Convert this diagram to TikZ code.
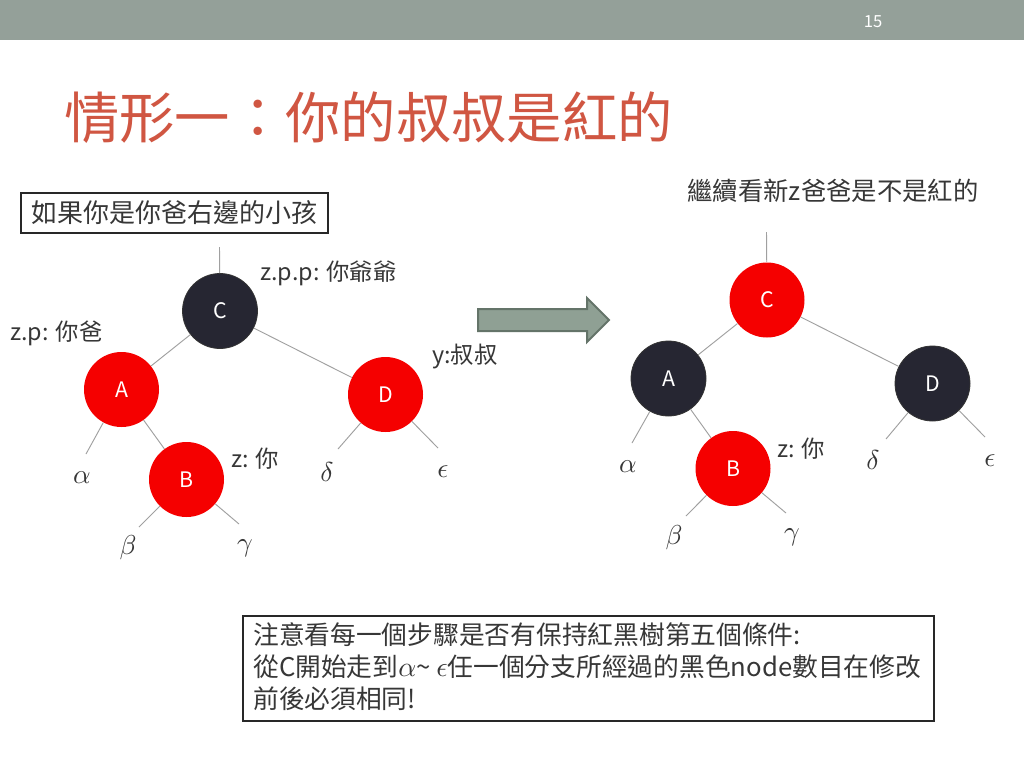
\documentclass[tikz,border=0pt]{standalone}
\usepackage{graphicx}
\usepackage{fontspec}
\setmainfont{Noto Sans CJK TC}
\definecolor{barc}{RGB}{148,160,153}
\definecolor{titlec}{RGB}{208,86,66}
\definecolor{nred}{RGB}{245,0,0}
\definecolor{nblack}{RGB}{38,38,50}
\definecolor{edgec}{RGB}{160,160,160}
\definecolor{arrowfill}{RGB}{143,160,148}
\definecolor{arrowline}{RGB}{100,116,105}
\definecolor{boxline}{RGB}{40,40,40}
\definecolor{textc}{RGB}{55,55,55}
\newcommand{\grk}[1]{\scalebox{2.05}{\fontsize{10}{12}\selectfont$#1$}}
\newcommand{\grkn}[1]{\scalebox{2.1}{\fontsize{10}{12}\selectfont$#1$}}
\begin{document}
\begin{tikzpicture}[x=0.75pt,y=-0.75pt,
  rbnode/.style={circle, minimum size=56.25pt, inner sep=0pt, text=white, font=\fontsize{16}{18}\selectfont},
  rednode/.style={rbnode, fill=nred},
  blacknode/.style={rbnode, fill=nblack, draw=black!80, line width=0.6pt},
  edge/.style={draw=edgec, line width=0.7pt},
  lbl/.style={anchor=west, inner sep=0pt, text=textc, font=\fontsize{17.5}{20}\selectfont},
  greek/.style={inner sep=0pt, text=textc},
  framebox/.style={draw=boxline, line width=1.5pt, inner sep=0pt, anchor=north west},
  ]
\useasboundingbox (0,0) rectangle (1024,768);
\fill[white] (0,0) rectangle (1024,768);
\fill[barc] (0,0) rectangle (1024,40);
\node[text=white, font=\fontsize{12.5}{14}\selectfont] (pg) at (873,22) {15};
\node[anchor=west, inner sep=0pt, text=titlec, font=\fontsize{41.5}{48}\selectfont] (title) at (64,118) {情形一：你的叔叔是紅的};

% condition box
\node[framebox, minimum width=230.25pt, minimum height=30pt] (cond) at (20,192) {};
\node[text=textc, font=\fontsize{19.5}{22}\selectfont, inner sep=0pt] (condtext) at (cond.center) {如果你是你爸右邊的小孩};

% ---------- left tree ----------
\node[blacknode] (LC) at (220,311) {C};
\node[rednode] (LA) at (121.5,389.5) {A};
\node[rednode] (LB) at (186.5,479.5) {B};
\node[rednode] (LD) at (385.5,394.5) {D};
\coordinate (Ltop) at (219.5,247);
\coordinate (Lal) at (86,454);
\coordinate (Lbe) at (139,527);
\coordinate (Lga) at (239,524);
\coordinate (Lde) at (338,449);
\coordinate (Lep) at (438,448);
\draw[edge] (Ltop) -- (LC);
\draw[edge] (LC) -- (LA);
\draw[edge] (LC) -- (LD);
\draw[edge] (LA) -- (LB);
\draw[edge] (LA) -- (Lal);
\draw[edge] (LB) -- (Lbe);
\draw[edge] (LB) -- (Lga);
\draw[edge] (LD) -- (Lde);
\draw[edge] (LD) -- (Lep);
\node[greek] (Lalpha) at (82,478) {\grk{\alpha}};
\node[greek] (Lbeta) at (128,548) {\grk{\beta}};
\node[greek] (Lgamma) at (245,548) {\grk{\gamma}};
\node[greek] (Ldelta) at (327,472) {\grk{\delta}};
\node[greek] (Leps) at (443,472) {\grk{\epsilon}};
\node[lbl] (Lzpp) at (260,273) {z.p.p: 你爺爺};
\node[lbl] (Lzp) at (10,333) {z.p: 你爸};
\node[lbl] (Ly) at (432,357) {y:叔叔};
\node[lbl] (Lz) at (231,459) {z: 你};

% ---------- arrow ----------
\draw[fill=arrowfill, draw=arrowline, line width=1.5pt, line join=miter]
  (478,309) -- (587,309) -- (587,298) -- (609,320) -- (587,342) -- (587,331) -- (478,331) -- cycle;

% ---------- right tree ----------
\node[text=textc, font=\fontsize{19}{22}\selectfont, inner sep=0pt] (next) at (833,191) {繼續看新z爸爸是不是紅的};
\node[rednode] (RC) at (767,300) {C};
\node[blacknode] (RA) at (668.5,378.5) {A};
\node[rednode] (RB) at (733,468.5) {B};
\node[blacknode] (RD) at (932.5,383.5) {D};
\coordinate (Rtop) at (766.5,232);
\coordinate (Ral) at (632,443);
\coordinate (Rbe) at (686,516);
\coordinate (Rga) at (786,513);
\coordinate (Rde) at (886,439);
\coordinate (Rep) at (985,437);
\draw[edge] (Rtop) -- (RC);
\draw[edge] (RC) -- (RA);
\draw[edge] (RC) -- (RD);
\draw[edge] (RA) -- (RB);
\draw[edge] (RA) -- (Ral);
\draw[edge] (RB) -- (Rbe);
\draw[edge] (RB) -- (Rga);
\draw[edge] (RD) -- (Rde);
\draw[edge] (RD) -- (Rep);
\node[greek] (Ralpha) at (628,467) {\grk{\alpha}};
\node[greek] (Rbeta) at (674,538) {\grk{\beta}};
\node[greek] (Rgamma) at (792,537) {\grk{\gamma}};
\node[greek] (Rdelta) at (873,460) {\grk{\delta}};
\node[greek] (Reps) at (990,461) {\grk{\epsilon}};
\node[lbl] (Rz) at (777,449) {z: 你};

% ---------- note box ----------
\node[framebox, minimum width=518.25pt, minimum height=78.75pt] (note) at (242,615) {};
\node[anchor=west, inner sep=0pt, align=left, text=textc, font=\fontsize{19.3}{24}\selectfont] (notetext) at (253,667)
  {注意看每一個步驟是否有保持紅黑樹第五個條件:\\
   從C開始走到\grkn{\alpha}\textasciitilde{} \grkn{\epsilon}任一個分支所經過的黑色node數目在修改\\
   前後必須相同!};
\end{tikzpicture}
\end{document}
